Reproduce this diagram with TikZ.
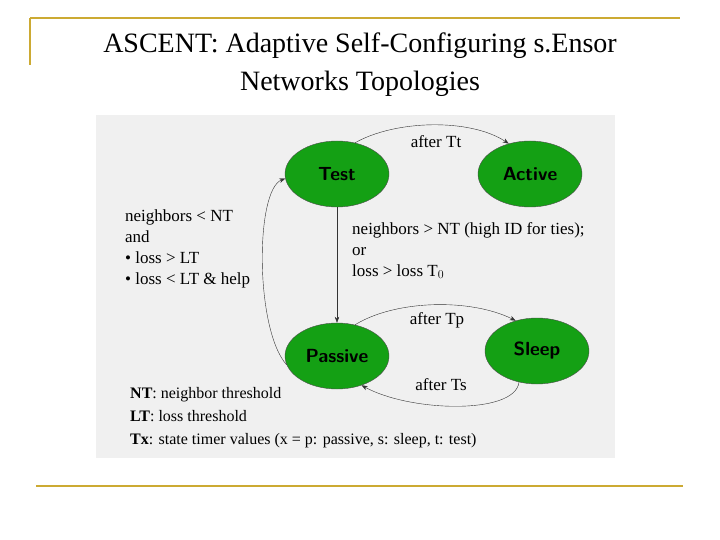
\documentclass[tikz,border=0pt]{standalone}
\usepackage{fontspec}
\setmainfont{Liberation Serif}
\usetikzlibrary{shapes.geometric,arrows.meta}
\definecolor{gold}{RGB}{204,170,51}
\definecolor{sgreen}{RGB}{20,160,20}
\begin{document}
\begin{tikzpicture}[x=1pt,y=-1pt,
  st/.style={ellipse,draw=black!70,fill=sgreen,minimum width=104pt,minimum height=66pt,font=\fontsize{19}{19}\selectfont\sffamily\bfseries,inner sep=0pt},
  lbl/.style={font=\fontsize{17}{21}\selectfont,align=left,inner sep=0pt},
  ar/.style={-{Stealth[length=6pt]},black!80,thin}]
\useasboundingbox (0,0) rectangle (720,540);
\fill[white] (0,0) rectangle (720,540);
\draw[gold,line width=1.2pt] (30,18) -- (680,18);
\draw[gold,line width=1.2pt] (30,18) -- (30,65);
\draw[gold,line width=1.2pt] (36,486) -- (683,486);
\node[font=\fontsize{28}{28}\selectfont] (t1) at (360,46) {ASCENT: Adaptive Self-Configuring s.Ensor};
\node[font=\fontsize{28}{28}\selectfont] (t2) at (360,84) {Networks Topologies};
\fill[black!6] (96,115) rectangle (615,458);
\node[st] (test) at (337,174) {Test};
\node[st] (active) at (530,174) {Active};
\node[st] (passive) at (337,356) {Passive};
\node[st] (sleep) at (537,351) {Sleep};
\draw[ar] (test.60) .. controls (395,120) and (470,118) .. (active.125);
\draw[ar] (passive.60) .. controls (395,300) and (470,298) .. (sleep.125);
\draw[ar] (sleep.240) .. controls (515,415) and (410,412) .. (passive.-50);
\draw[ar] (test.south) -- (passive.north);
\draw[ar] (passive.190) .. controls (255,330) and (255,190) .. (test.185);
\node[lbl] (l1) at (436,142) {after Tt};
\node[lbl] (l2) at (437,320) {after Tp};
\node[lbl] (l3) at (441,385) {after Ts};
\node[lbl,anchor=north west] (l4) at (125,210) {neighbors < NT\\and\\• loss > LT\\• loss < LT \& help};
\node[lbl,anchor=north west] (l5) at (352,222) {neighbors > NT (high ID for ties);\\or\\loss > loss T$_0$};
\node[lbl,anchor=north west,font=\fontsize{16}{23}\selectfont] (l6) at (130,387) {\textbf{NT}: neighbor threshold\\\textbf{LT}: loss threshold\\\textbf{Tx}: state timer values (x = p: passive, s: sleep, t: test)};
\end{tikzpicture}
\end{document}
